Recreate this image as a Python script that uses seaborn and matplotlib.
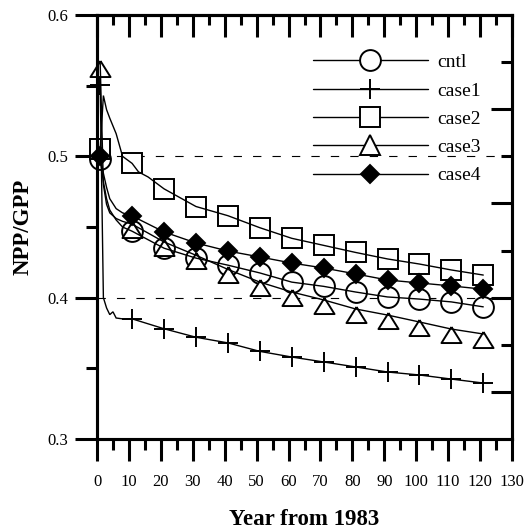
#!/usr/bin/env python3
# -*- coding: utf-8 -*-
"""
NPP/GPP ratio after 1983 - five model runs
"""
import pandas as pd
import matplotlib
matplotlib.use("Agg")
import matplotlib.pyplot as plt
import seaborn as sns
from matplotlib.lines import Line2D
from matplotlib.ticker import MultipleLocator, FixedLocator

# years carrying a marker
marker_years = [1, 11, 21, 31, 41, 51, 61, 71, 81, 91, 101, 111, 121]

# values at the marker years
cntl = [0.498, 0.447, 0.435, 0.428, 0.423, 0.4175, 0.411, 0.408, 0.404, 0.4005, 0.399, 0.397, 0.3935]
case1 = [0.5505, 0.385, 0.378, 0.372, 0.368, 0.362, 0.358, 0.3545, 0.351, 0.3474, 0.3453, 0.3424, 0.3396]
case2 = [0.505, 0.495, 0.477, 0.4645, 0.458, 0.4495, 0.442, 0.437, 0.432, 0.4274, 0.4238, 0.4196, 0.416]
case3 = [0.566, 0.452, 0.4394, 0.430, 0.420, 0.411, 0.404, 0.3984, 0.392, 0.3877, 0.3828, 0.3778, 0.3743]
case4 = [0.500, 0.4578, 0.4465, 0.4387, 0.433, 0.4288, 0.4245, 0.421, 0.4168, 0.4125, 0.4104, 0.4083, 0.406]

# extra points of the first years, where the curves drop fast
cntl_early_years = [2, 3, 4, 6, 8]
cntl_early = [0.482, 0.470, 0.462, 0.455, 0.450]
case1_early_years = [2, 3, 4, 5, 6, 8]
case1_early = [0.400, 0.3927, 0.388, 0.390, 0.3856, 0.385]
case2_early_years = [2, 3, 4, 6, 8, 13, 16]
case2_early = [0.543, 0.533, 0.527, 0.516, 0.500, 0.489, 0.4854]
case3_early_years = [2, 3, 4, 6, 8]
case3_early = [0.480, 0.466, 0.460, 0.456, 0.454]
case4_early_years = [2, 3, 4, 6, 8]
case4_early = [0.488, 0.478, 0.470, 0.463, 0.460]

labels = ["cntl", "case1", "case2", "case3", "case4"]

# triangle with its tip at the data point (as drawn in the original)
tri_marker = [(0, 0.25), (-1, -1.35), (1, -1.35), (0, 0.25)]

sns.set_theme(style="ticks", rc={
    "axes.edgecolor": "black", "text.color": "black",
    "xtick.color": "black", "ytick.color": "black",
    "axes.labelcolor": "black", "lines.solid_joinstyle": "miter",
})
plt.rcParams["font.family"] = ["Liberation Serif", "DejaVu Serif"]

fig = plt.figure(figsize=(5.27, 5.29), dpi=100)
ax = fig.add_axes([97 / 527, 90 / 529, 415 / 527, 424 / 529])

series = {
    "cntl": (cntl, cntl_early_years, cntl_early, dict(marker="o", ms=15, mfc="white")),
    "case1": (case1, case1_early_years, case1_early, dict(marker="+", ms=14.5)),
    "case2": (case2, case2_early_years, case2_early, dict(marker="s", ms=14.5, mfc="white")),
    "case3": (case3, case3_early_years, case3_early, dict(marker=tri_marker, ms=19.5, mfc="white")),
    "case4": (case4, case4_early_years, case4_early, dict(marker="D", ms=9.5, mfc="black")),
}

# dashed reference lines
for yref in [0.5, 0.4]:
    ax.axhline(yref, color="black", lw=0.8, ls=(0, (7.5, 10)), zorder=1)

for name, (vals, ey, ev, mk) in series.items():
    df = pd.DataFrame({"year": marker_years + ey, "value": vals + ev}).sort_values("year")
    # markers first, then the line on top
    ax.plot(marker_years, vals, ls="none", mec="black", mew=1.4, color="black",
            zorder=2, clip_on=False, **mk)
    sns.lineplot(data=df, x="year", y="value", color="black", lw=1.0,
                 estimator=None, sort=True, ax=ax, zorder=3)

ax.set_xlim(0, 130)
ax.set_ylim(0.3, 0.6)
ax.xaxis.set_major_locator(MultipleLocator(10))
ax.xaxis.set_minor_locator(MultipleLocator(5))
ax.yaxis.set_major_locator(MultipleLocator(0.1))
ax.yaxis.set_minor_locator(MultipleLocator(0.05))
ax.tick_params(which="major", direction="out", length=16, width=2.2, labelsize=12, pad=5)
ax.tick_params(axis="x", which="major", pad=9.5)
ax.tick_params(which="minor", direction="out", length=8, width=2.2)
for sp in ax.spines.values():
    sp.set_linewidth(2.2)

ax.set_xlabel("Year from 1983", fontsize=16.5, fontweight="bold", labelpad=13.5)
ax.set_ylabel("NPP/GPP", fontsize=16.5, fontweight="bold", labelpad=10)

# ticks on the top edge, pointing inwards
top = ax.secondary_xaxis("top")
top.xaxis.set_major_locator(MultipleLocator(10))
top.xaxis.set_minor_locator(MultipleLocator(5))
top.tick_params(which="major", direction="in", length=16, width=2.2, labeltop=False)
top.tick_params(which="minor", direction="in", length=7.5, width=2.2)
top.spines["top"].set_linewidth(2.2)

# ticks on the right edge (an unlabeled second scale)
right = ax.twinx()
right.set_ylim(0, 9)
right.yaxis.set_major_locator(FixedLocator([1, 3, 5, 7]))
right.yaxis.set_minor_locator(FixedLocator([2, 4, 6, 8]))
right.tick_params(which="major", direction="in", length=15, width=2.2, labelright=False)
right.tick_params(which="minor", direction="in", length=8, width=2.2)
for sp in right.spines.values():
    sp.set_linewidth(2.2)

handles = []
for name in labels:
    mk = dict(series[name][3])
    if name == "case3":
        mk.update(marker="^", ms=14)
    handles.append(Line2D([], [], color="black", lw=1.0, mec="black", mew=1.4, **mk))
ax.legend(handles, labels, loc="upper left", bbox_to_anchor=(0.52, 0.909),
          frameon=False, fontsize=14, handlelength=5.9, handletextpad=0.5,
          labelspacing=0.55, borderpad=0, borderaxespad=0, numpoints=1)

fig.savefig("out.png", dpi=100)
